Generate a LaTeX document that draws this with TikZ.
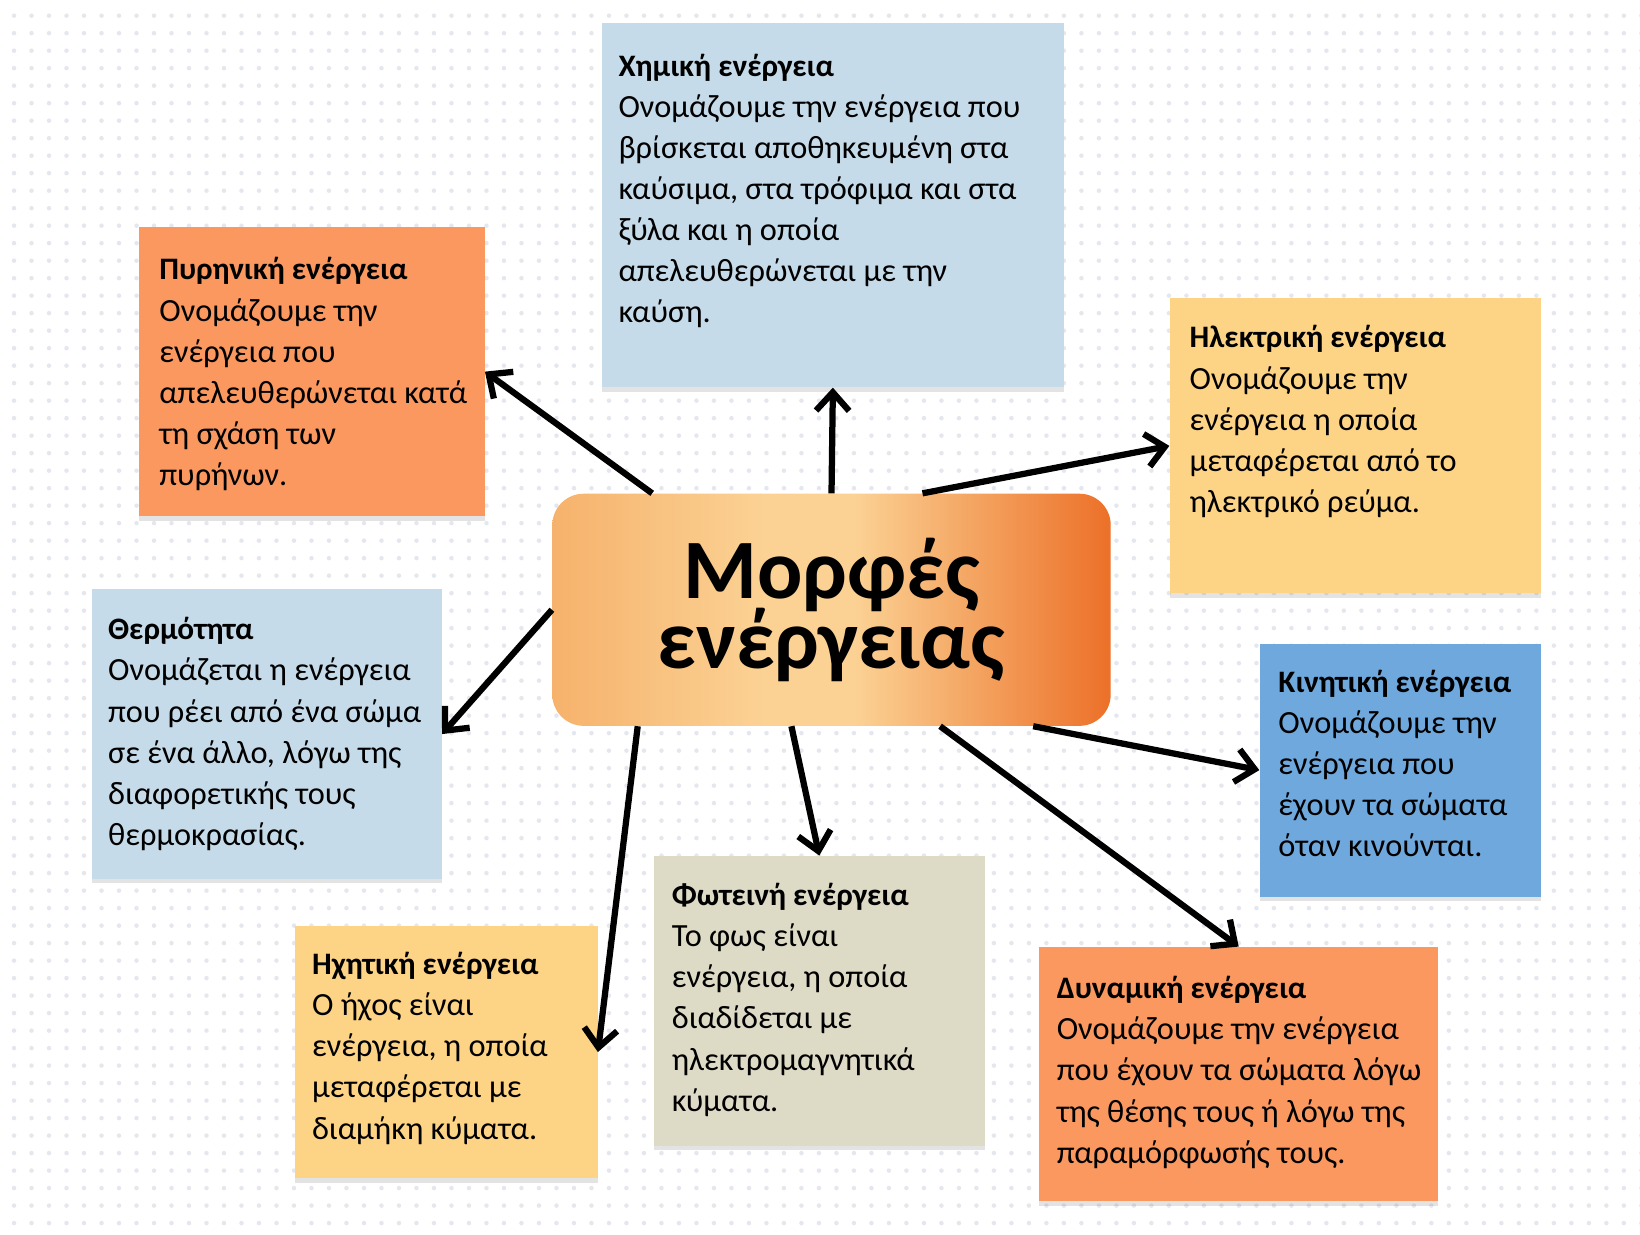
\documentclass[tikz,border=0pt]{standalone}
\usepackage{fontspec}
\setmainfont{Carlito}
\usetikzlibrary{arrows.meta,shadows}

\definecolor{chemblue}{RGB}{198,219,233}
\definecolor{nucorange}{RGB}{250,152,96}
\definecolor{elecyellow}{RGB}{253,212,134}
\definecolor{kinblue}{RGB}{111,168,220}
\definecolor{lightbeige}{RGB}{221,218,198}
\definecolor{hubleft}{RGB}{246,178,108}
\definecolor{hubmid}{RGB}{251,210,148}
\definecolor{hubright}{RGB}{236,112,40}
\definecolor{dotgray}{RGB}{228,231,238}

\pgfdeclarehorizontalshading{hubshade}{100bp}{color(0bp)=(hubleft); color(25bp)=(hubleft);
  color(44bp)=(hubmid); color(52bp)=(hubmid); color(75bp)=(hubright); color(100bp)=(hubright)}

\def \cardFont {\fontsize{17.6pt}{22.4pt}\selectfont}
\def \cardTitle #1{{\fontsize{17pt}{22.4pt}\selectfont\bfseries #1}}
\def \hubFont {\fontsize{46pt}{38pt}\selectfont\bfseries\lineskiplimit=-60pt}

\tikzset{
  cardbox/.style 2 args={anchor=north west, inner sep=0pt, minimum width=#1, minimum height=#2,
    drop shadow={shadow xshift=0pt, shadow yshift=-2.5pt, opacity=0.22}},
  cardtext/.style={anchor=north west, inner sep=0pt, align=left, font=\cardFont},
  hub/.style={rounded corners=0.6cm, minimum width=10.68cm, minimum height=4.44cm, align=center,
    shading=hubshade, font=\hubFont},
  arrow/.style={-{Straight Barb[length=10pt,width=18pt]}, line width=3.4pt}
}

\begin{document}
\begin{tikzpicture}[x=0.02cm, y=-0.02cm]
  \useasboundingbox (0,0) rectangle (1568,1180);
  \fill[white] (0,0) rectangle (1568,1180);
  % dotted paper
  \foreach \j in {0,...,70} {
    \fill[dotgray] \foreach \i in {0,...,93} {(13.4+16.73*\i, 15+16.73*\j) circle (0.043cm)};
  }

  % centre
  \node[hub] (hub) at (795,583) {Μορφές\\ενέργειας};

  % cards
  \node[cardbox={8.84cm}{6.96cm}, fill=chemblue] (chem) at (575,22) {};
  \node[cardtext] (chemtext) at ([shift={(16,29)}]chem.north west) {\cardTitle{Χημική ενέργεια}\\Ονομάζουμε την ενέργεια που\\βρίσκεται αποθηκευμένη στα\\καύσιμα, στα τρόφιμα και στα\\ξύλα και η οποία\\απελευθερώνεται με την\\καύση.};

  \node[cardbox={6.6cm}{5.52cm}, fill=nucorange] (nuc) at (133,217) {};
  \node[cardtext] (nuctext) at ([shift={(19,29)}]nuc.north west) {\cardTitle{Πυρηνική ενέργεια}\\Ονομάζουμε την\\ενέργεια που\\απελευθερώνεται κατά\\τη σχάση των\\πυρήνων.};

  \node[cardbox={7.1cm}{5.64cm}, fill=elecyellow] (elec) at (1118,285) {};
  \node[cardtext] (electext) at ([shift={(19,26)}]elec.north west) {\cardTitle{Ηλεκτρική ενέργεια}\\Ονομάζουμε την\\ενέργεια η οποία\\μεταφέρεται από το\\ηλεκτρικό ρεύμα.};

  \node[cardbox={6.68cm}{5.54cm}, fill=chemblue] (heat) at (88,563) {};
  \node[cardtext] (heattext) at ([shift={(15,27)}]heat.north west) {\cardTitle{Θερμότητα}\\Ονομάζεται η ενέργεια\\που ρέει από ένα σώμα\\σε ένα άλλο, λόγω της\\διαφορετικής τους\\θερμοκρασίας.};

  \node[cardbox={5.38cm}{4.84cm}, fill=kinblue] (kin) at (1204,615) {};
  \node[cardtext] (kintext) at ([shift={(18,25)}]kin.north west) {\cardTitle{Κινητική ενέργεια}\\Ονομάζουμε την\\ενέργεια που\\έχουν τα σώματα\\όταν κινούνται.};

  \node[cardbox={6.32cm}{5.54cm}, fill=lightbeige] (light) at (625,818) {};
  \node[cardtext] (lighttext) at ([shift={(17,26)}]light.north west) {\cardTitle{Φωτεινή ενέργεια}\\Το φως είναι\\ενέργεια, η οποία\\διαδίδεται με\\ηλεκτρομαγνητικά\\κύματα.};

  \node[cardbox={5.78cm}{4.82cm}, fill=elecyellow] (sound) at (282,885) {};
  \node[cardtext] (soundtext) at ([shift={(16,25)}]sound.north west) {\cardTitle{Ηχητική ενέργεια}\\Ο ήχος είναι\\ενέργεια, η οποία\\μεταφέρεται με\\διαμήκη κύματα.};

  \node[cardbox={7.64cm}{4.86cm}, fill=nucorange] (pot) at (993,905) {};
  \node[cardtext] (pottext) at ([shift={(17,28)}]pot.north west) {\cardTitle{Δυναμική ενέργεια}\\Ονομάζουμε την ενέργεια\\που έχουν τα σώματα λόγω\\της θέσης τους ή λόγω της\\παραμόρφωσής τους.};

  % arrows
  \draw[arrow] (hub.147) -- (nuc.east);
  \draw[arrow] (hub.90) -- (chem.south);
  \draw[arrow] (hub.52) -- (elec.west);
  \draw[arrow] (hub.180) -- (heat.east);
  \draw[arrow] (hub.-30) -- (kin.west);
  \draw[arrow] (hub.-109) -- (light.north);
  \draw[arrow] (hub.-149) -- (sound.east);
  \draw[arrow] (hub.-47) -- (pot.north);
\end{tikzpicture}
\end{document}
